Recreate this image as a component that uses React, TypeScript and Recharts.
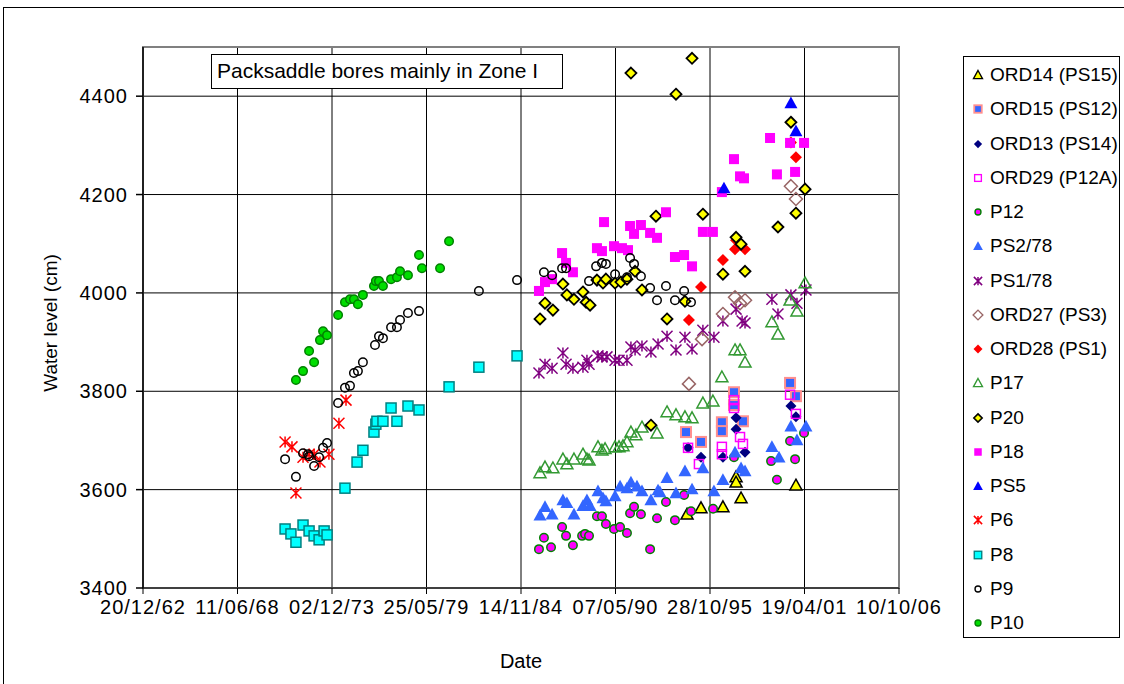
import React from "react";
import {
  ScatterChart,
  Scatter,
  XAxis,
  YAxis,
  CartesianGrid,
  ReferenceArea,
  Legend,
} from "recharts";

// [decimal year, water level in cm]
type Pt = [number, number];

const ord14: Pt[] = [
  [1994.49, 3550], [1995.3, 3563], [1996.57, 3565], [1997.33, 3626], [1997.33, 3615],
  [1997.62, 3583], [2000.8, 3609],
];
const ord15: Pt[] = [
  [1994.43, 3717], [1995.3, 3697], [1996.51, 3737], [1996.51, 3719], [1997.21, 3798],
  [1997.21, 3772], [1997.73, 3739], [2000.46, 3817], [2000.8, 3790],
];
const ord13: Pt[] = [
  [1994.55, 3685], [1995.3, 3666], [1996.57, 3666], [1997.33, 3746], [1997.33, 3723],
  [1997.85, 3676], [2000.51, 3770], [2000.8, 3748],
];
const ord29: Pt[] = [
  [1994.55, 3685], [1995.18, 3652], [1996.51, 3687], [1996.51, 3672], [1997.21, 3782],
  [1997.21, 3766], [1997.56, 3707], [1997.73, 3693], [2000.46, 3793], [2000.8, 3754],
];
const p12: Pt[] = [
  [1985.91, 3479], [1986.2, 3502], [1986.61, 3483], [1987.25, 3524], [1987.48, 3506],
  [1987.88, 3487], [1988.41, 3506], [1988.58, 3510], [1988.81, 3506], [1989.27, 3546],
  [1989.56, 3546], [1989.79, 3530], [1990.26, 3520], [1990.61, 3524], [1991.01, 3512],
  [1991.19, 3552], [1991.42, 3565], [1991.82, 3550], [1992.35, 3479], [1992.75, 3542],
  [1993.27, 3575], [1993.79, 3538], [1994.32, 3589], [1994.72, 3556], [1996.0, 3561],
  [1997.21, 3666], [1999.36, 3658], [1999.7, 3620], [2000.46, 3699], [2000.75, 3662],
  [2001.27, 3715],
];
const ps278: Pt[] = [
  [1985.97, 3548], [1986.26, 3565], [1986.67, 3550], [1987.3, 3579], [1987.53, 3573],
  [1987.94, 3550], [1988.46, 3567], [1988.69, 3579], [1988.87, 3567], [1989.33, 3597],
  [1989.62, 3583], [1989.79, 3577], [1990.32, 3587], [1990.61, 3607], [1991.01, 3603],
  [1991.24, 3615], [1991.59, 3607], [1991.88, 3597], [1992.4, 3579], [1992.81, 3599],
  [1992.92, 3595], [1993.33, 3624], [1993.85, 3593], [1994.37, 3638], [1994.78, 3601],
  [1995.41, 3644], [1996.05, 3597], [1996.57, 3620], [1997.27, 3676], [1997.62, 3644],
  [1997.85, 3638], [1999.41, 3687], [1999.82, 3666], [2000.51, 3729], [2000.86, 3701],
  [2001.38, 3729],
];
const ps178: Pt[] = [
  [1985.91, 3837], [1986.26, 3855], [1986.67, 3847], [1987.3, 3878], [1987.48, 3855],
  [1987.88, 3847], [1988.46, 3849], [1988.69, 3863], [1988.81, 3855], [1989.33, 3872],
  [1989.56, 3870], [1989.85, 3870], [1990.32, 3863], [1990.55, 3863], [1991.01, 3863],
  [1991.24, 3890], [1991.48, 3884], [1991.88, 3892], [1992.4, 3880], [1992.81, 3896],
  [1993.33, 3912], [1993.85, 3884], [1994.37, 3910], [1994.78, 3886], [1995.41, 3924],
  [1996.05, 3910], [1996.57, 3943], [1997.33, 3967], [1997.68, 3943], [1997.85, 3939],
  [1999.41, 3987], [1999.76, 3957], [2000.51, 3996], [2000.86, 3979], [2001.38, 4006],
];
const ord27: Pt[] = [
  [1994.6, 3815], [1995.36, 3906], [1996.57, 3957], [1997.27, 3991], [1997.56, 3979],
  [1997.85, 3985], [2000.51, 4217], [2000.8, 4191],
];
const ord28: Pt[] = [
  [1994.6, 3945], [1995.3, 4012], [1996.57, 4067], [1997.27, 4089], [1997.85, 4089],
  [1997.33, 4107], [2000.8, 4276], [2000.51, 4306],
];
const p17: Pt[] = [
  [1985.97, 3634], [1986.26, 3646], [1986.72, 3644], [1987.3, 3662], [1987.53, 3652],
  [1987.94, 3662], [1988.46, 3672], [1988.69, 3662], [1988.81, 3660], [1989.33, 3687],
  [1989.56, 3680], [1989.74, 3683], [1990.32, 3687], [1990.55, 3687], [1990.78, 3689],
  [1991.01, 3697], [1991.24, 3717], [1991.53, 3711], [1991.88, 3727], [1992.75, 3715],
  [1993.33, 3758], [1993.85, 3752], [1994.37, 3748], [1994.78, 3746], [1995.41, 3776],
  [1995.99, 3780], [1996.51, 3829], [1997.27, 3884], [1997.56, 3884], [1997.85, 3859],
  [1999.41, 3941], [1999.76, 3916], [2000.46, 3985], [2000.86, 3963], [2001.33, 4020],
];
const p20: Pt[] = [
  [1985.97, 3947], [1986.26, 3979], [1986.72, 3965], [1987.3, 4018], [1987.53, 3996],
  [1987.94, 3987], [1988.46, 4002], [1988.64, 3981], [1988.87, 3975], [1989.27, 4026],
  [1989.62, 4020], [1989.79, 4028], [1990.32, 4020], [1990.66, 4022], [1991.01, 4028],
  [1991.24, 4447], [1991.48, 4044], [1991.88, 4006], [1992.4, 3731], [1992.69, 4156],
  [1993.33, 3947], [1993.85, 4404], [1994.37, 3983], [1994.78, 4477], [1995.41, 4160],
  [1996.57, 4038], [1997.33, 4113], [1997.62, 4099], [1997.85, 4044], [1999.76, 4134],
  [2000.51, 4347], [2000.8, 4162], [2001.33, 4211],
];
const p18: Pt[] = [
  [1985.91, 4004], [1986.26, 4022], [1986.67, 4028], [1987.25, 4081], [1987.48, 4061],
  [1987.88, 4042], [1989.27, 4091], [1989.56, 4085], [1989.68, 4144], [1990.26, 4095],
  [1990.72, 4091], [1991.07, 4087], [1991.19, 4136], [1991.42, 4120], [1991.82, 4138],
  [1992.35, 4122], [1992.75, 4112], [1993.27, 4164], [1993.79, 4073], [1994.32, 4077],
  [1994.78, 4054], [1995.41, 4124], [1995.99, 4124], [1996.51, 4205], [1997.21, 4272],
  [1997.56, 4237], [1997.79, 4233], [1999.3, 4315], [1999.7, 4241], [2000.46, 4305],
  [2000.75, 4246], [2001.27, 4305],
];
const ps5: Pt[] = [[1996.63, 4213], [2000.51, 4386], [2000.8, 4329]];
const p6: Pt[] = [
  [1971.2, 3697], [1971.6, 3687], [1971.83, 3593], [1972.24, 3666], [1972.59, 3672],
  [1972.88, 3672], [1973.22, 3656], [1973.74, 3672], [1974.32, 3735], [1974.73, 3782],
];
const p8: Pt[] = [
  [1971.2, 3520], [1971.54, 3510], [1971.83, 3493], [1972.24, 3528], [1972.59, 3516],
  [1972.88, 3506], [1973.17, 3498], [1973.46, 3516], [1973.63, 3508], [1974.67, 3603],
  [1975.37, 3656], [1975.71, 3680], [1976.35, 3717], [1976.46, 3733], [1976.52, 3739],
  [1976.87, 3739], [1977.34, 3766], [1977.68, 3739], [1978.32, 3770], [1978.96, 3762],
  [1980.7, 3809], [1982.43, 3849], [1984.64, 3872],
];
const p9: Pt[] = [
  [1971.2, 3662], [1971.83, 3626], [1972.24, 3674], [1972.53, 3672], [1972.59, 3668],
  [1972.88, 3648], [1973.17, 3666], [1973.4, 3685], [1973.63, 3695], [1974.27, 3776],
  [1974.67, 3807], [1974.96, 3811], [1975.19, 3837], [1975.42, 3841], [1975.71, 3859],
  [1976.41, 3894], [1976.64, 3912], [1976.87, 3908], [1977.34, 3930], [1977.68, 3930],
  [1977.86, 3945], [1978.32, 3959], [1978.96, 3963], [1982.43, 4004], [1984.64, 4026],
  [1986.2, 4042], [1986.67, 4036], [1987.25, 4050], [1987.48, 4050], [1988.81, 4024],
  [1989.22, 4054], [1989.56, 4061], [1989.79, 4059], [1990.32, 4038], [1991.01, 4032],
  [1991.19, 4071], [1991.42, 4059], [1991.82, 4034], [1992.35, 4010], [1992.75, 3985],
  [1993.27, 4014], [1993.79, 3985], [1994.32, 4004], [1994.72, 3981],
];
const p10: Pt[] = [
  [1971.83, 3823], [1972.24, 3841], [1972.59, 3882], [1972.88, 3859], [1973.22, 3904],
  [1973.4, 3922], [1973.63, 3914], [1974.27, 3955], [1974.67, 3981], [1974.96, 3987],
  [1975.19, 3987], [1975.42, 3977], [1975.71, 3996], [1976.35, 4014], [1976.46, 4024],
  [1976.64, 4024], [1976.87, 4014], [1977.34, 4028], [1977.68, 4032], [1977.86, 4044],
  [1978.32, 4036], [1978.96, 4077], [1979.13, 4050], [1980.18, 4050], [1980.7, 4105],
];

// excel-style day serials: 20/12/62 = 23000, every 2000 days
const X_TICKS = [23000, 25000, 27000, 29000, 31000, 33000, 35000, 37000, 39000];
const Y_TICKS = [3400, 3600, 3800, 4000, 4200, 4400];

const FONT = '"Liberation Sans", Arial, sans-serif';
const EPOCH = Date.UTC(1899, 11, 30);
const DAY = 86400000;

function toSerial(year: number) {
  const y = Math.floor(year);
  const start = Date.UTC(y, 0, 1);
  const len = Date.UTC(y + 1, 0, 1) - start;
  return (start + (year - y) * len - EPOCH) / DAY;
}

function fmtDate(serial: number) {
  const d = new Date(EPOCH + serial * DAY);
  const pad = (n: number) => String(n).padStart(2, "0");
  return `${pad(d.getUTCDate())}/${pad(d.getUTCMonth() + 1)}/${pad(d.getUTCFullYear() % 100)}`;
}

type Kind = "circle" | "square" | "diamond" | "triangle" | "asterisk";
type Mark = { kind: Kind; size: number; fill: string; stroke: string; sw: number };

const SERIES: { name: string; pts: Pt[]; m: Mark }[] = [
  { name: "ORD14 (PS15)", pts: ord14, m: { kind: "triangle", size: 12, fill: "#FFFF00", stroke: "#000", sw: 1.5 } },
  { name: "ORD15 (PS12)", pts: ord15, m: { kind: "square", size: 10, fill: "#3366FF", stroke: "#FF8F8F", sw: 2 } },
  { name: "ORD13 (PS14)", pts: ord13, m: { kind: "diamond", size: 11, fill: "#000080", stroke: "none", sw: 0 } },
  { name: "ORD29 (P12A)", pts: ord29, m: { kind: "square", size: 9, fill: "none", stroke: "#FF00FF", sw: 1.5 } },
  { name: "P12", pts: p12, m: { kind: "circle", size: 10, fill: "#FF00FF", stroke: "#008000", sw: 1.5 } },
  { name: "PS2/78", pts: ps278, m: { kind: "triangle", size: 13, fill: "#3366FF", stroke: "none", sw: 0 } },
  { name: "PS1/78", pts: ps178, m: { kind: "asterisk", size: 11, fill: "none", stroke: "#800080", sw: 1.5 } },
  { name: "ORD27 (PS3)", pts: ord27, m: { kind: "diamond", size: 13, fill: "none", stroke: "#996666", sw: 1.5 } },
  { name: "ORD28 (PS1)", pts: ord28, m: { kind: "diamond", size: 12, fill: "#FF0000", stroke: "none", sw: 0 } },
  { name: "P17", pts: p17, m: { kind: "triangle", size: 12, fill: "none", stroke: "#339933", sw: 1.5 } },
  { name: "P20", pts: p20, m: { kind: "diamond", size: 11, fill: "#FFFF00", stroke: "#000", sw: 1.8 } },
  { name: "P18", pts: p18, m: { kind: "square", size: 10, fill: "#FF00FF", stroke: "none", sw: 0 } },
  { name: "PS5", pts: ps5, m: { kind: "triangle", size: 13, fill: "#0000FF", stroke: "none", sw: 0 } },
  { name: "P6", pts: p6, m: { kind: "asterisk", size: 11, fill: "none", stroke: "#FF0000", sw: 1.5 } },
  { name: "P8", pts: p8, m: { kind: "square", size: 10, fill: "#00FFFF", stroke: "#008080", sw: 1.5 } },
  { name: "P9", pts: p9, m: { kind: "circle", size: 10, fill: "none", stroke: "#000", sw: 1.5 } },
  { name: "P10", pts: p10, m: { kind: "circle", size: 10, fill: "#00DD00", stroke: "#008000", sw: 1.5 } },
];

function Marker({ cx, cy, m, k = 1 }: { cx: number; cy: number; m: Mark; k?: number }) {
  const s = m.size * k;
  const h = s / 2;
  const common = { fill: m.fill, stroke: m.stroke, strokeWidth: m.sw * (k < 1 ? 0.9 : 1) };
  switch (m.kind) {
    case "circle":
      return <circle cx={cx} cy={cy} r={h - m.sw / 2} {...common} />;
    case "square":
      return <rect x={cx - h} y={cy - h} width={s} height={s} {...common} />;
    case "diamond":
      return <polygon points={`${cx},${cy - h} ${cx + h},${cy} ${cx},${cy + h} ${cx - h},${cy}`} {...common} />;
    case "triangle":
      return <polygon points={`${cx},${cy - h} ${cx + h},${cy + h * 0.8} ${cx - h},${cy + h * 0.8}`} {...common} />;
    default:
      return (
        <path
          d={`M${cx - h},${cy - h}L${cx + h},${cy + h}M${cx + h},${cy - h}L${cx - h},${cy + h}M${cx},${cy - h}L${cx},${cy + h}`}
          fill="none"
          stroke={m.stroke}
          strokeWidth={m.sw}
        />
      );
  }
}

function LegendBox() {
  return (
    <div
      style={{
        width: 157,
        height: 582,
        boxSizing: "border-box",
        border: "1px solid #000",
        background: "#fff",
        position: "relative",
        fontFamily: FONT,
        fontSize: 19,
        color: "#000",
      }}
    >
      {SERIES.map((s, i) => (
        <div key={s.name} style={{ position: "absolute", left: 6, top: 18 + i * 34.25 - 12, height: 24, display: "flex", alignItems: "center", whiteSpace: "nowrap" }}>
          <svg width={16} height={16} style={{ marginRight: 4 }}>
            <Marker cx={8} cy={8} m={s.m} k={0.75} />
          </svg>
          <span>{s.name}</span>
        </div>
      ))}
    </div>
  );
}

export default function App() {
  return (
    <div style={{ position: "absolute", left: 0, top: 0, width: 1124, height: 684, background: "#fff" }}>
      <div style={{ position: "absolute", left: 3, top: 7, width: 1130, height: 690, border: "1px solid #000" }} />
      <ScatterChart width={1124} height={684} margin={{ top: 47, right: 225, bottom: 0, left: 0 }}>
        <CartesianGrid stroke="#000" strokeWidth={1} />
        <ReferenceArea x1={23000} x2={39000} y1={3400} y2={4500} fill="none" stroke="#808080" strokeWidth={2} />
        <XAxis
          type="number"
          dataKey="x"
          domain={[23000, 39000]}
          ticks={X_TICKS}
          interval={0}
          allowDataOverflow
          height={96}
          tickSize={6}
          tickMargin={6}
          tickFormatter={fmtDate}
          tick={{ fontSize: 20, fill: "#000", fontFamily: FONT, letterSpacing: 1 }}
          stroke="#000"
          label={{ value: "Date", position: "insideBottom", offset: 16, fontSize: 20, fill: "#000", fontFamily: FONT }}
        />
        <YAxis
          type="number"
          dataKey="y"
          domain={[3400, 4500]}
          ticks={Y_TICKS}
          interval={0}
          allowDataOverflow
          width={143}
          tickSize={7}
          tickMargin={8}
          tick={{ fontSize: 20, fill: "#000", fontFamily: FONT, letterSpacing: 1 }}
          stroke="#000"
          strokeWidth={1.5}
          label={{
            content: () => (
              <text x={50} y={323} transform="rotate(-90 50 323)" textAnchor="middle" dominantBaseline="central" fontSize={19} fontFamily={FONT} fill="#000">
                Water level (cm)
              </text>
            ),
          }}
        />
        {SERIES.map((s) => (
          <Scatter
            key={s.name}
            name={s.name}
            data={s.pts.map(([yr, v]) => ({ x: toSerial(yr), y: v }))}
            isAnimationActive={false}
            shape={(p: any) => <Marker cx={p.cx} cy={p.cy} m={s.m} />}
          />
        ))}
        <Legend
          layout="vertical"
          align="center"
          verticalAlign="middle"
          wrapperStyle={{ left: 963, top: 56 }}
          content={() => <LegendBox />}
        />
      </ScatterChart>
      <div
        style={{
          position: "absolute",
          left: 211,
          top: 54,
          width: 352,
          height: 35,
          boxSizing: "border-box",
          border: "1.5px solid #000",
          background: "#fff",
          fontFamily: FONT,
          fontSize: 21,
          lineHeight: "32px",
          paddingLeft: 5,
          whiteSpace: "nowrap",
        }}
      >
        Packsaddle bores mainly in Zone I
      </div>
    </div>
  );
}
